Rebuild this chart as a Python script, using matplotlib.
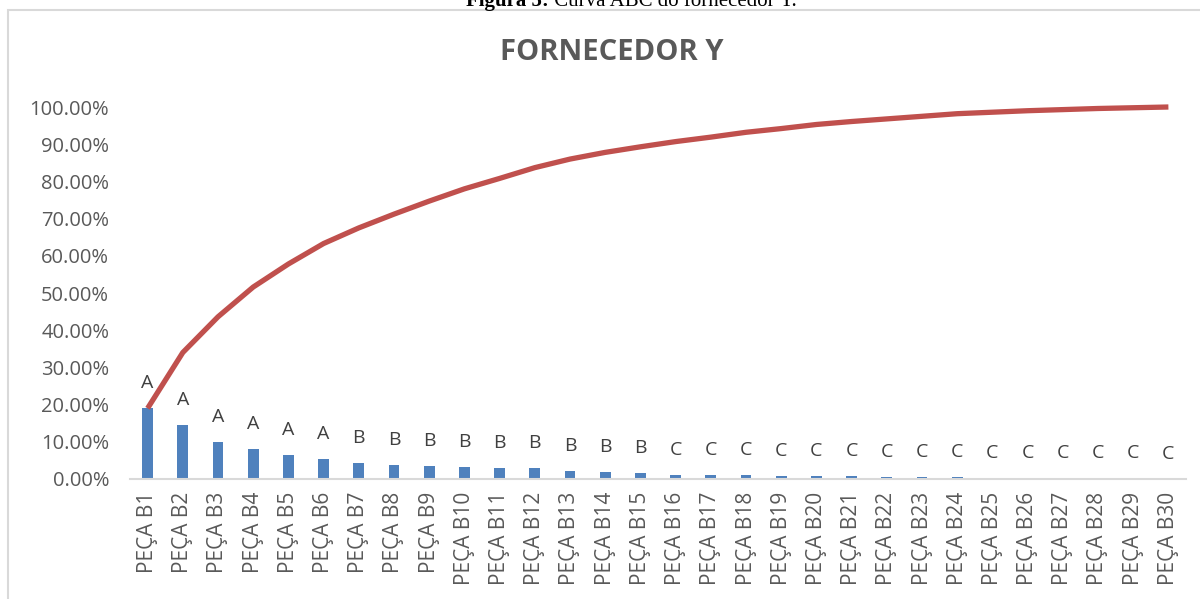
import matplotlib
matplotlib.use("Agg")
import matplotlib.pyplot as plt
from matplotlib.patches import Rectangle
from matplotlib.ticker import FuncFormatter

# ======= Data =======
pecas = [f"PEÇA B{i}" for i in range(1, 31)]
share_pct = [19.0, 14.5, 9.9, 8.0, 6.4, 5.5, 4.2, 3.7, 3.5, 3.2,
             3.0, 2.9, 2.1, 1.8, 1.5, 1.2, 1.0, 1.0, 0.8, 0.8,
             0.7, 0.6, 0.6, 0.5, 0.3, 0.2, 0.2, 0.2, 0.15, 0.1]
cumulative_pct = [19.0, 34.0, 43.6, 51.6, 57.8, 63.3, 67.5, 71.2, 74.7, 78.0,
                  80.8, 83.7, 86.0, 87.8, 89.3, 90.7, 91.9, 93.2, 94.2, 95.3,
                  96.1, 96.8, 97.5, 98.2, 98.6, 99.0, 99.3, 99.6, 99.8, 100.0]
classes = ["A"] * 6 + ["B"] * 9 + ["C"] * 15

caption_bold = "Figura 5:"
caption_rest = " Curva ABC do fornecedor Y."
title = "FORNECEDOR Y"

# ======= Style =======
BAR_COLOR = "#4F81BD"
LINE_COLOR = "#C0504D"
TEXT_COLOR = "#595959"
LABEL_COLOR = "#404040"
AXIS_COLOR = "#D9D9D9"
FONT = ["Open Sans", "DejaVu Sans"]

W, H = 1200, 599
fig = plt.figure(figsize=(W / 100, H / 100), dpi=100)
fig.patch.set_facecolor("white")

# chart frame (cut off at right/bottom like the screenshot)
fig.patches.append(Rectangle((8 / W, -0.05), 1.2, 1 - 10 / H + 0.05,
                             transform=fig.transFigure, fill=False,
                             edgecolor=AXIS_COLOR, linewidth=1.5))

# caption, partially cut at the top edge as in the screenshot
cap = fig.text(466 / W, 1 - 6 / H, caption_bold, family="Liberation Serif",
               fontsize=15, fontweight="bold", ha="left", va="baseline")
fig.canvas.draw()
bb = cap.get_window_extent()
fig.text(bb.x1 / W, 1 - 6 / H, caption_rest, family="Liberation Serif",
         fontsize=15, ha="left", va="baseline")

fig.text(612 / W, 1 - 52 / H, title, family=FONT, fontsize=21,
         fontweight="bold", color=TEXT_COLOR, ha="center", va="center")

ax = fig.add_axes([130 / W, 1 - 479 / H, (1186 - 130) / W, (479 - 107) / H])
x = list(range(len(pecas)))

ax.bar(x, share_pct, width=0.31, color=BAR_COLOR, zorder=2)
ax.plot(x, cumulative_pct, color=LINE_COLOR, linewidth=3.8,
        solid_capstyle="butt", zorder=3, clip_on=False)

for xi, v, c in zip(x, share_pct, classes):
    ax.annotate(c, (xi, v), xytext=(0, 18), textcoords="offset points",
                ha="center", va="center", fontsize=14, color=LABEL_COLOR,
                family=FONT, zorder=4)

ax.set_xlim(-0.5, len(pecas) - 0.5)
ax.set_ylim(0, 100)
ax.set_yticks(range(0, 101, 10))
ax.yaxis.set_major_formatter(FuncFormatter(lambda v, _: f"{v:.2f}%"))
ax.set_xticks(x)
ax.set_xticklabels(pecas, rotation=90)

for lbl in ax.get_yticklabels():
    lbl.set_family(FONT)
    lbl.set_fontsize(14.5)
    lbl.set_color(TEXT_COLOR)
for lbl in ax.get_xticklabels():
    lbl.set_family(FONT)
    lbl.set_fontsize(15)
    lbl.set_color(TEXT_COLOR)

ax.tick_params(axis="both", length=0)
ax.tick_params(axis="y", pad=15)
ax.tick_params(axis="x", pad=9)
for side in ("top", "right", "left"):
    ax.spines[side].set_visible(False)
ax.spines["bottom"].set_color(AXIS_COLOR)
ax.spines["bottom"].set_linewidth(1.5)
ax.set_facecolor("none")

fig.savefig("out.png", dpi=100)
